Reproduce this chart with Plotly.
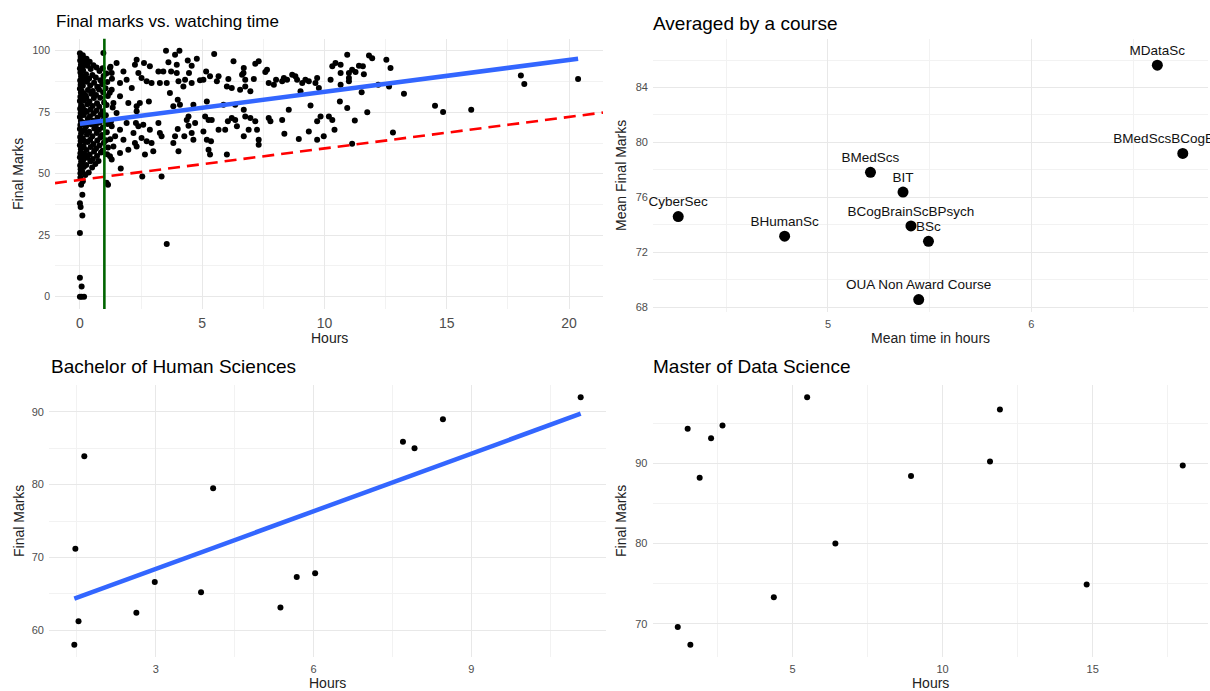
import numpy as np
import plotly.graph_objects as go

W, H = 1210, 691
FONT = "Liberation Sans, Arial, Helvetica, sans-serif"

# ---------------- Panel 1: all students (hours vs final marks) ----------------
hours_dense = [
    0.00, 0.03, 0.01, 0.04, 0.00, 0.02, 0.05, 0.01, 0.03, 0.00, 0.04, 0.02, 0.00, 0.05, 0.01, 0.03,
    0.00, 0.04, 0.02, 0.00, 0.05, 0.01, 0.03, 0.00, 0.04, 0.02, 0.00, 0.05, 0.01, 0.03, 0.02,
    0.07, 0.09, 0.06, 0.08, 0.07, 0.09, 0.06, 0.08, 0.07, 0.09, 0.06, 0.08, 0.07, 0.09, 0.06,
    0.12, 0.16, 0.13, 0.18, 0.12, 0.15, 0.17, 0.12, 0.16, 0.14, 0.18, 0.12, 0.15, 0.17, 0.13, 0.16, 0.11,
    0.21, 0.20, 0.22, 0.20, 0.21, 0.22, 0.20,
    0.27, 0.31, 0.25, 0.29, 0.33, 0.26, 0.30, 0.28, 0.32, 0.25, 0.29, 0.31, 0.27, 0.30, 0.26,
    0.40, 0.44, 0.38, 0.42, 0.46, 0.39, 0.43, 0.41, 0.45, 0.38, 0.42, 0.44, 0.40, 0.43,
    0.55, 0.51, 0.58, 0.53, 0.57, 0.52, 0.56, 0.54, 0.59, 0.51, 0.55, 0.58, 0.53,
    0.68, 0.65, 0.71, 0.66, 0.70, 0.67, 0.72, 0.65, 0.69, 0.71, 0.66, 0.70,
    0.80, 0.84, 0.78, 0.83, 0.79, 0.85, 0.81, 0.78, 0.84, 0.80, 0.86,
    0.93, 0.97, 0.91, 0.95, 0.99, 0.92, 0.96, 0.94, 0.90, 0.98, 0.93,
    1.08, 1.12, 1.05, 1.14, 1.09, 1.06, 1.13, 1.10, 1.07, 1.15, 1.11,
    1.25, 1.31, 1.22, 1.34, 1.27, 1.24, 1.30,
]
marks_dense = [
    99.0, 97.6, 96.1, 94.3, 92.8, 91.2, 89.4, 87.9, 86.2, 84.6, 83.0, 81.3, 79.6, 78.0, 76.4, 74.7,
    73.1, 71.5, 69.8, 68.2, 66.5, 64.9, 63.3, 61.6, 60.0, 58.3, 56.7, 55.0, 53.4, 51.8, 50.2,
    97.0, 93.5, 90.0, 86.8, 83.8, 80.5, 77.2, 74.0, 70.6, 67.3, 64.0, 60.7, 57.5, 54.2, 51.0,
    98.2, 95.3, 92.1, 89.0, 85.8, 82.7, 79.9, 76.8, 73.9, 70.7, 67.6, 64.4, 61.2, 58.1, 55.4, 52.7, 50.6,
    94.8, 88.2, 81.9, 75.7, 69.5, 63.1, 57.0,
    96.8, 93.9, 90.5, 87.4, 84.1, 81.0, 78.3, 75.2, 72.3, 69.2, 66.0, 62.9, 59.7, 56.5, 53.6,
    95.5, 92.6, 88.7, 85.9, 82.5, 79.4, 76.1, 73.4, 70.1, 67.1, 63.8, 60.9, 57.8, 55.1,
    94.1, 90.2, 87.0, 83.6, 80.8, 77.5, 74.5, 71.6, 68.4, 65.2, 62.1, 59.0, 56.0,
    93.2, 89.1, 85.4, 82.0, 78.7, 75.6, 72.8, 69.6, 66.6, 63.5, 60.3, 57.2,
    91.8, 88.0, 84.3, 80.9, 77.2, 74.0, 70.8, 67.9, 64.7, 61.5, 58.6,
    92.9, 89.7, 86.4, 83.1, 79.0, 75.4, 72.0, 68.8, 65.8, 62.6, 59.4,
    90.8, 87.3, 84.8, 81.6, 78.0, 73.8, 70.2, 66.9, 63.6, 60.7, 57.9,
    93.5, 88.6, 82.9, 76.9, 71.2, 64.0, 55.8,
]

hours_low = [0.10, 0.00, 0.03, 0.10, 0.00, 0.00, 0.07, 0.07, 0.17, 0.00, 0.02, 0.12, 0.05, 0.22, 0.36, 0.50, 0.63, 0.76]
marks_low = [41.5, 38.0, 36.5, 33.0, 25.9, 7.7, 4.2, 0.0, 0.0, 0.0, 48.5, 47.0, 45.5, 49.5, 50.5, 52.5, 54.0, 55.2]

hours_near = [0.96, 1.50, 1.30, 1.23, 1.78, 2.25, 1.64, 1.91, 1.30, 2.12,
              1.64, 1.37, 1.98, 2.32, 1.50, 1.30, 1.64, 1.91, 1.44, 1.78,
              2.19, 1.37, 1.64, 1.98, 2.25, 1.23, 1.67, 1.09, 1.15]
marks_near = [99.1, 95.0, 91.0, 93.0, 91.6, 94.3, 86.9, 88.2, 84.2, 84.9,
              81.5, 78.8, 78.8, 77.4, 74.7, 69.3, 67.9, 70.6, 65.2, 63.8,
              66.6, 61.1, 58.4, 59.8, 62.5, 57.1, 52.1, 46.3, 45.5]

hours_mid = [3.52, 3.89, 4.07, 3.62, 3.96, 4.41, 4.78, 5.49, 6.28, 4.57,
             2.32, 2.62, 2.86, 3.21, 3.41, 3.73, 3.96, 4.46, 5.16, 5.32,
             5.67, 6.07, 6.69, 2.39, 2.52, 2.73, 2.93, 3.27, 3.55, 4.03,
             4.30, 4.23, 4.57, 4.91, 5.05, 5.60, 6.01, 6.21, 6.55, 3.68,
             4.00, 4.09, 3.82, 2.82, 2.45, 2.32, 4.64, 5.19, 5.87, 6.35,
             4.44, 4.37, 4.71, 4.44, 5.12, 5.26, 5.39, 6.21, 6.05, 6.35,
             6.42, 3.21, 2.59, 2.39, 2.29, 2.86, 3.27, 3.34, 4.00, 3.89,
             4.27, 4.57, 4.64, 5.05, 5.67, 5.94, 5.19, 5.36, 5.26, 5.32,
             3.82, 4.03, 2.52, 2.73, 2.93, 2.32, 3.00, 2.66, 6.01, 2.55,
             3.34, 3.55]
marks_mid = [100.0, 98.4, 100.0, 95.3, 94.3, 96.1, 96.8, 98.7, 95.7, 93.9,
             96.4, 95.0, 93.7, 91.6, 91.6, 91.6, 91.0, 91.0, 91.6, 89.6,
             89.6, 88.5, 91.0, 91.0, 88.9, 87.6, 86.9, 86.9, 86.9, 87.6,
             88.2, 85.5, 86.9, 88.0, 88.2, 87.6, 85.5, 84.9, 84.2, 82.8,
             80.1, 78.1, 77.4, 79.4, 78.8, 75.4, 78.1, 79.4, 78.1, 78.1,
             73.3, 71.9, 70.6, 69.5, 73.3, 71.9, 71.9, 72.7, 71.3, 71.9,
             69.3, 70.6, 69.9, 69.3, 70.6, 67.9, 66.6, 65.2, 68.2, 65.2,
             65.2, 66.6, 63.8, 67.2, 67.9, 67.9, 63.8, 63.2, 59.8, 57.8,
             62.5, 59.1, 64.5, 63.2, 62.5, 61.1, 59.1, 57.8, 57.8, 48.9,
             48.9, 21.4]

hours_upper = [6.70, 6.63, 6.76, 7.31, 7.17, 7.65, 7.58, 7.11, 7.72, 7.93,
               8.02, 8.27, 8.34, 8.47, 8.68, 8.81, 8.88, 9.09, 9.22, 9.36,
               9.70, 9.63, 9.77, 9.02, 10.32, 10.45, 10.66, 10.25, 10.66, 11.00,
               10.66, 10.93, 6.76, 6.97, 6.70, 6.76, 6.97, 7.17, 6.90, 6.70,
               7.24, 7.31, 7.31, 7.72, 7.79, 8.27, 8.54, 8.36, 8.95, 9.36,
               9.43, 9.70, 9.84, 9.70, 9.97, 10.18, 10.32, 10.41, 10.63, 10.93]
marks_upper = [93.0, 90.3, 88.2, 95.7, 94.7, 92.3, 91.4, 88.5, 86.9, 86.2,
               88.2, 87.6, 88.9, 88.2, 90.3, 89.6, 88.2, 86.9, 88.2, 87.6,
               88.9, 86.9, 84.9, 83.5, 93.7, 95.0, 94.3, 88.2, 86.2, 87.6,
               91.0, 98.4, 85.5, 83.5, 76.0, 73.3, 72.7, 71.3, 67.9, 65.2,
               67.9, 63.8, 61.8, 72.7, 71.3, 71.9, 76.0, 66.3, 64.1, 67.2,
               77.8, 71.3, 73.3, 63.8, 65.2, 73.3, 71.9, 67.9, 79.4, 76.7]

hours_far = [11.82, 11.95, 12.53, 12.70, 11.41, 11.57, 11.13, 11.27, 11.00, 11.61,
             11.00, 11.52, 12.20, 12.64, 13.25, 11.75, 11.24, 12.80, 11.13, 14.52,
             14.85, 16.00, 18.03, 18.17, 20.37]
marks_far = [98.1, 97.0, 96.4, 93.0, 93.9, 93.7, 92.3, 91.4, 91.0, 90.5,
             88.9, 83.1, 86.2, 85.5, 82.5, 75.0, 71.7, 66.8, 62.2, 77.7,
             75.1, 76.0, 90.0, 86.5, 88.5]

p1_fit = {"intercept": 70.3, "slope": 1.30}      # blue regression line
p1_ref = {"intercept": 47.5, "slope": 1.28}      # red dashed line
p1_vline = 1.0                                   # green vertical line
p1_xticks = [0, 5, 10, 15, 20]
p1_yticks = [0, 25, 50, 75, 100]

# ---------------- Panel 2: averaged by course ----------------
courses = ["CyberSec", "BHumanSc", "BMedScs", "BIT", "BCogBrainScBPsych", "BSc",
           "OUA Non Award Course", "MDataSc", "BMedScsBCogBrainSc"]
mean_hours = [4.264, 4.787, 5.209, 5.369, 5.408, 5.494, 5.446, 6.619, 6.744]
mean_marks = [74.59, 73.16, 77.82, 76.38, 73.91, 72.79, 68.54, 85.63, 79.19]
label_nudge = 1.0
p2_xticks = [5, 6]
p2_yticks = [68, 72, 76, 80, 84]

# ---------------- Panel 3: Bachelor of Human Sciences ----------------
bhs_hours = [1.45, 1.53, 1.47, 1.64, 2.63, 2.98, 3.86, 4.09, 5.37, 5.68, 6.03, 7.70, 7.92, 8.46, 11.08]
bhs_marks = [58.0, 61.2, 71.2, 83.9, 62.4, 66.6, 65.2, 79.5, 63.1, 67.3, 67.8, 85.9, 85.0, 89.0, 92.0]
p3_fit = {"intercept": 60.5, "slope": 2.64}
p3_xticks = [3, 6, 9]
p3_yticks = [60, 70, 80, 90]

# ---------------- Panel 4: Master of Data Science ----------------
mds_hours = [1.18, 1.60, 1.51, 1.91, 2.29, 2.67, 4.38, 5.49, 6.43, 8.95, 11.58, 11.91, 14.80, 18.00]
mds_marks = [69.6, 67.4, 94.3, 88.2, 93.1, 94.7, 73.3, 98.2, 80.0, 88.4, 90.2, 96.7, 74.9, 89.7]
p4_xticks = [5, 10, 15]
p4_yticks = [70, 80, 90]

# ======================================================================
all_hours = hours_dense + hours_low + hours_near + hours_mid + hours_upper + hours_far
all_marks = marks_dense + marks_low + marks_near + marks_mid + marks_upper + marks_far


def expand(lo, hi, f=0.05):
    d = (hi - lo) * f
    return [lo - d, hi + d]


def minor_between(ticks, rng):
    step = ticks[1] - ticks[0]
    cands = [ticks[0] - step / 2] + [t + step / 2 for t in ticks]
    return [c for c in cands if rng[0] <= c <= rng[1]]


x1r = expand(min(all_hours), max(all_hours))
y1r = expand(min(all_marks), max(all_marks))
x2r = expand(min(mean_hours), max(mean_hours))
y2r = expand(min(mean_marks), max(mean_marks) + label_nudge)
x3r = expand(min(bhs_hours), max(bhs_hours))
y3r = expand(min(bhs_marks), max(bhs_marks))
x4r = expand(min(mds_hours), max(mds_hours))
y4r = expand(min(mds_marks), max(mds_marks))

BLACK = "#000000"
BLUE = "#3366FF"

fig = go.Figure()

# Panel 1
fig.add_trace(go.Scatter(x=all_hours, y=all_marks, mode="markers",
                         marker=dict(color=BLACK, size=6, line=dict(width=0)),
                         xaxis="x", yaxis="y", showlegend=False, hoverinfo="x+y"))
fx = np.array([min(all_hours), max(all_hours)])
fig.add_trace(go.Scatter(x=fx, y=p1_fit["intercept"] + p1_fit["slope"] * fx, mode="lines",
                         line=dict(color=BLUE, width=4.5), xaxis="x", yaxis="y", showlegend=False))
rx = np.array(x1r)
fig.add_trace(go.Scatter(x=rx, y=p1_ref["intercept"] + p1_ref["slope"] * rx, mode="lines",
                         line=dict(color="#FF0000", width=2.6, dash="12px,7px"),
                         xaxis="x", yaxis="y", showlegend=False))
fig.add_trace(go.Scatter(x=[p1_vline, p1_vline], y=y1r, mode="lines",
                         line=dict(color="#006400", width=2.6), xaxis="x", yaxis="y", showlegend=False))

# Panel 2
fig.add_trace(go.Scatter(x=mean_hours, y=mean_marks, mode="markers",
                         marker=dict(color=BLACK, size=11, line=dict(width=0)),
                         xaxis="x2", yaxis="y2", showlegend=False))
fig.add_trace(go.Scatter(x=mean_hours, y=[m + label_nudge for m in mean_marks], mode="text",
                         text=courses, textposition="middle center",
                         textfont=dict(family=FONT, size=13.5, color="#111111"),
                         cliponaxis=False, xaxis="x2", yaxis="y2", showlegend=False))

# Panel 3
fig.add_trace(go.Scatter(x=bhs_hours, y=bhs_marks, mode="markers",
                         marker=dict(color=BLACK, size=6, line=dict(width=0)),
                         xaxis="x3", yaxis="y3", showlegend=False))
bx = np.array([min(bhs_hours), max(bhs_hours)])
fig.add_trace(go.Scatter(x=bx, y=p3_fit["intercept"] + p3_fit["slope"] * bx, mode="lines",
                         line=dict(color=BLUE, width=4.5), xaxis="x3", yaxis="y3", showlegend=False))

# Panel 4
fig.add_trace(go.Scatter(x=mds_hours, y=mds_marks, mode="markers",
                         marker=dict(color=BLACK, size=6, line=dict(width=0)),
                         xaxis="x4", yaxis="y4", showlegend=False))


def dx(a, b):
    return [a / W, b / W]


def dy(top, bottom):
    return [1 - bottom / H, 1 - top / H]


def axis(ticks, rng, domain, anchor, size, color="#4D4D4D"):
    return dict(range=rng, domain=domain, anchor=anchor,
                tickmode="array", tickvals=ticks, ticktext=[str(t) for t in ticks],
                showgrid=True, gridcolor="#E8E8E8", gridwidth=1.1,
                minor=dict(tickvals=minor_between(ticks, rng), showgrid=True,
                           gridcolor="#F2F2F2", gridwidth=0.7),
                zeroline=False, showline=False, ticks="",
                tickfont=dict(family=FONT, size=size, color=color),
                ticklabelstandoff=4, fixedrange=True)


fig.update_layout(
    width=W, height=H, margin=dict(l=0, r=0, t=0, b=0),
    paper_bgcolor="white", plot_bgcolor="white",
    font=dict(family=FONT, color="#000000"),
    xaxis=axis(p1_xticks, x1r, dx(55, 603), "y", 14),
    yaxis=axis(p1_yticks, y1r, dy(38.5, 309), "x", 10.5),
    xaxis2=axis(p2_xticks, x2r, dx(653, 1208), "y2", 11),
    yaxis2=axis(p2_yticks, y2r, dy(39, 312), "x2", 11),
    xaxis3=axis(p3_xticks, x3r, dx(49, 606), "y3", 11),
    yaxis3=axis(p3_yticks, y3r, dy(385, 657), "x3", 11),
    xaxis4=axis(p4_xticks, x4r, dx(652.5, 1208), "y4", 11),
    yaxis4=axis(p4_yticks, y4r, dy(385, 657), "x4", 11),
)


def ann(text, xpx, ypx, size, anchor="left", angle=0, color="#000000"):
    fig.add_annotation(text=text, x=xpx / W, y=1 - ypx / H, xref="paper", yref="paper",
                       xanchor=anchor, yanchor="middle", showarrow=False, textangle=angle,
                       font=dict(family=FONT, size=size, color=color))


# Panel titles
ann("Final marks vs. watching time", 54, 21, 17)
ann("Averaged by a course", 651, 23, 19)
ann("Bachelor of Human Sciences", 49, 367, 19)
ann("Master of Data Science", 651, 367, 19)

# Axis titles
ann("Hours", 329, 338, 14, "center", color="#222222")
ann("Final Marks", 18, 174, 14, "center", -90, color="#222222")
ann("Mean time in hours", 930, 338, 14, "center", color="#222222")
ann("Mean Final Marks", 621, 176, 14, "center", -90, color="#222222")
ann("Hours", 327, 683, 14, "center", color="#222222")
ann("Final Marks", 19, 521, 14, "center", -90, color="#222222")
ann("Hours", 930, 683, 14, "center", color="#222222")
ann("Final Marks", 621, 521, 14, "center", -90, color="#222222")

fig.write_html(
    "out.html",
    config={"displayModeBar": False},
    post_script="document.body.style.margin='0px';document.body.style.overflow='hidden';",
)
